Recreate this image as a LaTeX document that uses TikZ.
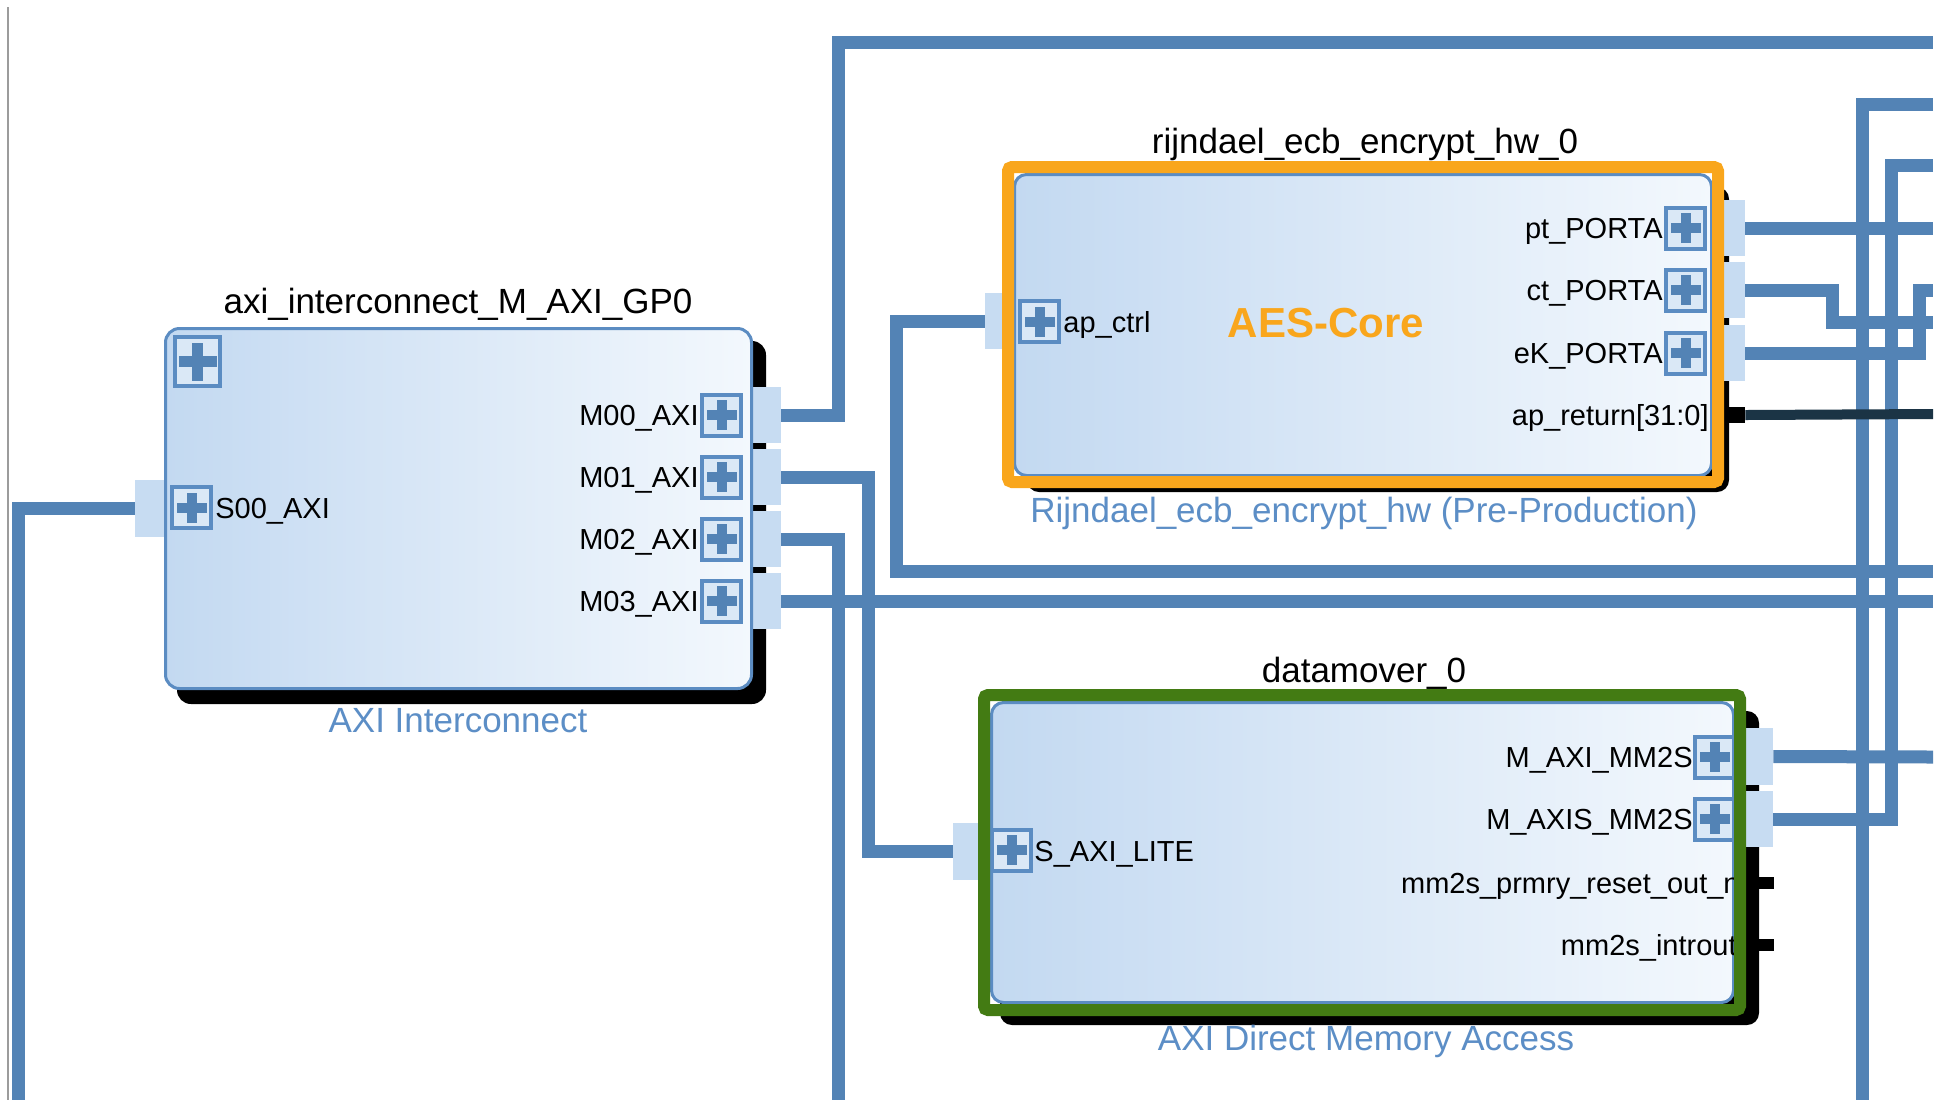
\documentclass[tikz,border=0pt]{standalone}
\usepackage{fontspec}
\setmainfont{Liberation Sans}
\definecolor{wireblue}{HTML}{5383B5}
\definecolor{stubblue}{HTML}{C7DCF2}
\definecolor{edgeblue}{HTML}{5B8CC2}
\definecolor{fillL}{HTML}{C3D9F1}
\definecolor{fillR}{HTML}{F3F8FD}
\definecolor{plusfill}{HTML}{DAE8F6}
\definecolor{hlorange}{HTML}{F9A61C}
\definecolor{hlgreen}{HTML}{437B13}
\definecolor{subblue}{HTML}{5C8EC6}
\definecolor{netdark}{HTML}{1B3445}
\definecolor{edgegray}{HTML}{9C9C9C}
% plus sign inside an interface pin box
\newcommand{\plusmark}[2]{%
  \fill[wireblue] ([xshift=-#1,yshift=-#2]path picture bounding box.center) rectangle ([xshift=#1,yshift=#2]path picture bounding box.center);%
  \fill[wireblue] ([xshift=-#2,yshift=-#1]path picture bounding box.center) rectangle ([xshift=#2,yshift=#1]path picture bounding box.center);}
\begin{document}
\begin{tikzpicture}[x=0.5pt,y=-0.5pt,
  wire/.style={draw=wireblue, line width=6.5pt},
  darkwire/.style={draw=netdark, line width=5pt},
  stubbox/.style={fill=stubblue, draw=none, inner sep=0pt, minimum width=14pt, minimum height=28pt},
  pinstub/.style={fill=black, draw=none, inner sep=0pt, minimum width=13.5pt, minimum height=6pt},
  ipblock/.style={draw=edgeblue, line width=1.5pt, left color=fillL, right color=fillR, inner sep=0pt},
  dropshade/.style={fill=black, rounded corners=7pt},
  plusbox/.style={draw=edgeblue, line width=2pt, fill=plusfill, inner sep=0pt,
    minimum width=19.5pt, minimum height=20.5pt, path picture={\plusmark{7.5pt}{2.5pt}}},
  bigplus/.style={draw=edgeblue, line width=2pt, fill=plusfill, inner sep=0pt,
    minimum width=22.5pt, minimum height=24.5pt, path picture={\plusmark{9.5pt}{2.8pt}}},
  portlbl/.style={font=\fontsize{14.5pt}{17pt}\selectfont, inner sep=0pt},
  ttl/.style={font=\fontsize{17.5pt}{20pt}\selectfont, inner sep=0pt, anchor=base},
  subttl/.style={ttl, text=subblue},
]
\useasboundingbox (0,0) rectangle (1943,1100);
\fill[white] (0,0) rectangle (1943,1100);
\draw[edgegray, line width=1.2pt] (8,7) -- (8,1100);

% free ends of nets leaving the view
\coordinate (eS00) at (18,1100);
\coordinate (eTop) at (1933,42);
\coordinate (eM02) at (838,1100);
\coordinate (eM03) at (1933,601);
\coordinate (eLoop) at (1933,571);
\coordinate (ePt) at (1933,228);
\coordinate (eCt) at (1933,322);
\coordinate (eEk) at (1933,290);
\coordinate (eRet) at (1933,414);
\coordinate (eA) at (1933,104);
\coordinate (eAbot) at (1862,1100);
\coordinate (eB) at (1933,165);
\coordinate (eMaxi) at (1933,757);

% ---------------- AXI Interconnect ----------------
\fill[dropshade] (177,341) rectangle (766,704);
\node[stubbox, minimum width=16.5pt, minimum height=28.5pt] (s00s) at (151.5,508.5) {};
\node[stubbox] (m0s) at (767,415) {};
\node[stubbox] (m1s) at (767,477) {};
\node[stubbox] (m2s) at (767,539) {};
\node[stubbox] (m3s) at (767,601) {};
\node[ipblock, rounded corners=7pt, minimum width=293pt, minimum height=180pt] (ic) at (458.5,508.5) {};
\node[bigplus] (icp) at (197.5,361.5) {};
\node[plusbox] (s00p) at (191.5,507.5) {};
\node[portlbl, anchor=base west] (s00l) at (215,518.5) {S00\_AXI};
\foreach \n/\c in {0/415,1/477,2/539,3/601}{
  \node[plusbox] (m\n p) at (721.5,\c) {};
  \node[portlbl, anchor=base east] (m\n l) at (699,\c+10.5) {M0\n\_AXI};
}
\node[ttl] (ict) at (458,313) {axi\_interconnect\_M\_AXI\_GP0};
\node[subttl] (ics) at (458,732) {AXI Interconnect};

% ---------------- AES core ----------------
\fill[dropshade, rounded corners=6pt] (1027,187) rectangle (1729,492);
\node[ipblock, rounded corners=6pt, minimum width=348.5pt, minimum height=150.5pt] (aes) at (1363,325) {};
\node[stubbox, minimum width=10.5pt] (pts) at (1734.5,228) {};
\node[stubbox, minimum width=10.5pt] (cts) at (1734.5,290) {};
\node[stubbox, minimum width=10.5pt] (eks) at (1734.5,353) {};
\node[stubbox, minimum width=12.5pt] (apcs) at (997.5,321) {};
\node[pinstub, minimum width=9pt, minimum height=8pt] (aprs) at (1736,415) {};
\draw[hlorange, line width=6pt, rounded corners=2pt] (1008,167) rectangle (1718,482);
\node[plusbox] (apcp) at (1039.5,321.5) {};
\node[portlbl, anchor=base west] (apcl) at (1063,332) {ap\_ctrl};
\node[plusbox] (ptp) at (1685.5,228) {};
\node[plusbox] (ctp) at (1685.5,290) {};
\node[plusbox] (ekp) at (1685.5,353) {};
\node[portlbl, anchor=base east] (ptl) at (1663,238.5) {pt\_PORTA};
\node[portlbl, anchor=base east] (ctl) at (1663,300.5) {ct\_PORTA};
\node[portlbl, anchor=base east] (ekl) at (1663,363.5) {eK\_PORTA};
\node[portlbl, anchor=base east] (aprl) at (1709,425) {ap\_return[31:0]};
\node[font=\fontsize{21pt}{24pt}\selectfont\bfseries, text=hlorange, inner sep=0pt, anchor=base] (aesname) at (1326,337) {AES-Core};
\node[ttl] (aest) at (1365,153) {rijndael\_ecb\_encrypt\_hw\_0};
\node[subttl] (aess) at (1364,522) {Rijndael\_ecb\_encrypt\_hw (Pre-Production)};

% ---------------- Data mover ----------------
\fill[dropshade, rounded corners=6pt] (1000,711) rectangle (1759,1025);
\node[ipblock, rounded corners=6pt, minimum width=371pt, minimum height=150pt] (dm) at (1362.5,852.5) {};
\node[stubbox, minimum width=16pt, minimum height=28.5pt] (saxis) at (969,851.5) {};
\node[stubbox, minimum width=13.5pt, minimum height=28.5pt] (maxis) at (1759.5,756.5) {};
\node[stubbox, minimum width=13.5pt, minimum height=28pt] (maxiss) at (1759.5,819) {};
\node[pinstub] (rsts) at (1760.5,883) {};
\node[pinstub] (irqs) at (1760.5,944.5) {};
\node[plusbox] (saxip) at (1011.5,850) {};
\node[portlbl, anchor=base west] (saxil) at (1034,861) {S\_AXI\_LITE};
\node[plusbox] (maxip) at (1714.5,757) {};
\node[plusbox] (maxisp) at (1714.5,819) {};
\node[portlbl, anchor=base east] (maxil) at (1693,767.5) {M\_AXI\_MM2S};
\node[portlbl, anchor=base east] (maxisl) at (1693,829.5) {M\_AXIS\_MM2S};
\node[portlbl, anchor=base east] (rstl) at (1740,893.5) {mm2s\_prmry\_reset\_out\_n};
\node[portlbl, anchor=base east] (irql) at (1737,955) {mm2s\_introut};
\draw[hlgreen, line width=6pt, rounded corners=2pt] (984,695) rectangle (1740,1010);
\node[ttl] (dmt) at (1364,682) {datamover\_0};
\node[subttl] (dms) at (1366,1050) {AXI Direct Memory Access};

% ---------------- nets ----------------
\draw[wire] (s00s.west) -| (eS00);
\draw[wire] (m0s.east) -- ++(57,0) |- (eTop);
\draw[wire] (m1s.east) -- ++(87,0) |- (saxis.west);
\draw[wire] (m2s.east) -| (eM02);
\draw[wire] (m3s.east) -- (eM03);
\draw[wire] (apcs.west) -- ++(-88,0) |- (eLoop);
\draw[wire] (pts.east) -- (ePt);
\draw[wire] (cts.east) -- ++(87,0) |- (eCt);
\draw[wire] (eks.east) -- ++(174,0) |- (eEk);
\draw[wire] (eA) -| (eAbot);
\draw[wire] (eB) -- ++(-42,0) |- (maxiss.east);
\draw[wire] (maxis.east) -- (eMaxi);
\draw[darkwire] (aprs.east) -- (eRet);
\end{tikzpicture}
\end{document}
